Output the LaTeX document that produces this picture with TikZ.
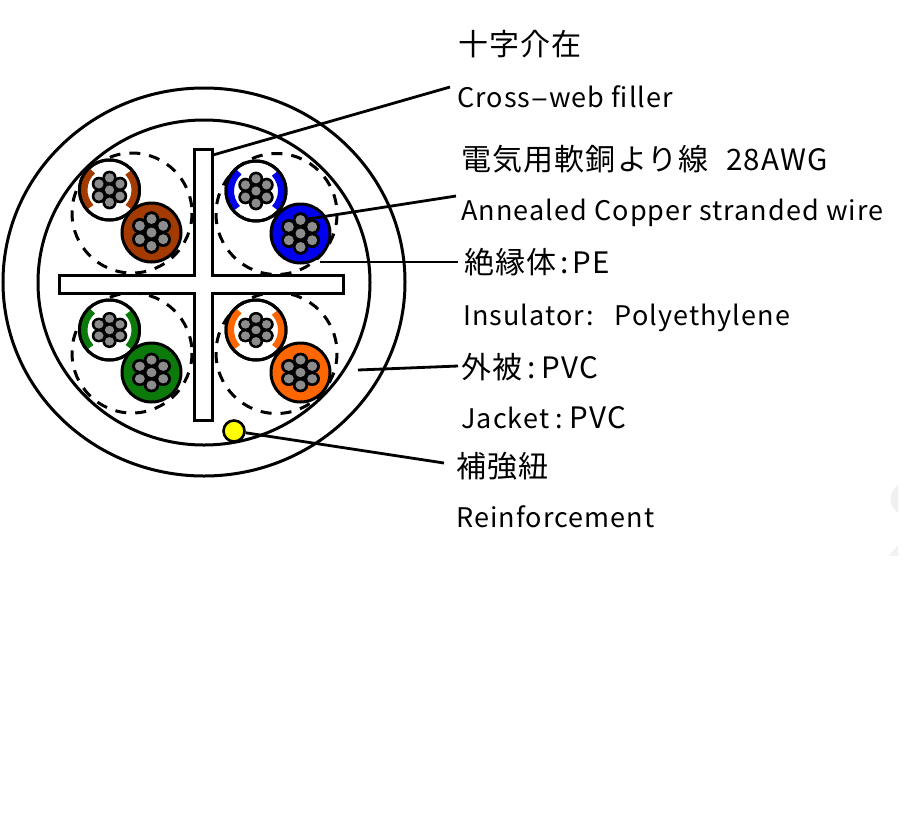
\documentclass[tikz,border=0pt]{standalone}
\usepackage{fontspec}
\usepackage{graphicx}
\setmainfont{Noto Sans CJK JP}
\newfontfamily\lblfont[LetterSpace=4]{Noto Sans CJK JP}
\definecolor{cbrown}{HTML}{A33B00}
\definecolor{cblue}{HTML}{0000EE}
\definecolor{cgreen}{HTML}{0B7A0B}
\definecolor{corange}{HTML}{FF6600}
\definecolor{cyarn}{HTML}{FFFF00}
\definecolor{cstrand}{HTML}{8C8C8C}
\tikzset{
  shell/.style={draw=black,line width=3pt,fill=white},
  web/.style={draw=black,line width=3pt,fill=white},
  pairline/.style={draw=black,line width=3pt,dash pattern=on 11pt off 9pt},
  leader/.style={draw=black,line width=2.8pt},
  lbl/.style={anchor=base west,inner sep=0pt,font=\lblfont\fontsize{27}{27}\selectfont,text=black},
  lblj/.style={anchor=base west,inner sep=0pt,font=\lblfont\fontsize{30}{30}\selectfont,text=black},
}
\newcommand{\lat}[1]{{\fontsize{29.5}{29.5}\selectfont #1}}
\newcommand{\strands}[6]{% x y offset flatten black-r gray-r
  \begin{scope}[shift={(#1,#2)},yscale=#4]
    \foreach \a in {-90,-30,30,90,150,210}{\fill[black] (\a:#3) circle (#5);}
    \fill[black] (0,0) circle (#5+2);
    \foreach \a in {-90,-30,30,90,150,210}{\fill[cstrand] (\a:#3) circle (#6);}
    \fill[cstrand] (0,0) circle (#6);
  \end{scope}}
\newcommand{\pairset}[8]{% dx dy dr wx wy colour flatten dx-of-colour-wire
  \draw[pairline] (#1,#2) circle (#3);
  \draw[black,line width=3pt,fill=white] (#4,#5) circle (30);
  \begin{scope}[shift={(#4,#5)}]
    \draw[#6,line width=8pt] (138:26) arc (138:228:26);
    \draw[#6,line width=8pt] (42:26) arc (42:-43:26);
  \end{scope}
  \draw[black,line width=3pt] (#4,#5) circle (30);
  \strands{#4}{#5}{12.2}{#7}{7.2}{4.6}
  \draw[black,line width=3pt,fill=#6] ({#4+#8},{#5+42.5}) circle (29.5);
  \strands{#4+#8}{#5+42.5}{13.5}{#7}{7.8}{5}
}
\begin{document}
\begin{tikzpicture}[x=1pt,y=-1pt]
\useasboundingbox (0,0) rectangle (907,812);
\fill[white] (0,0) rectangle (907,812);
% faint scan marks at right
\fill[black!6] (898,485) -- (898,513) .. controls (888,505) and (888,493) .. (898,485) -- cycle;
\fill[black!5] (898,545) -- (898,556) -- (889,556) -- cycle;
% jacket and core
\path[shell] (204,282) ellipse (201 and 194);
\path[shell] (204,282.5) ellipse (166 and 162.5);
% pairs
\pairset{132}{213}{60}{109.5}{190}{cbrown}{1}{42}
\pairset{276.5}{214}{60.5}{256}{191}{cblue}{1}{44.5}
\pairset{132}{353}{60}{109.5}{330}{cgreen}{0.93}{42}
\pairset{276.5}{353}{60.5}{256}{330}{corange}{0.93}{44.5}
% cross-web filler
\path[web] (194,149) -- (212,149) -- (212,275) -- (343,275) -- (343,293) -- (212,293) -- (212,420) -- (194,420) -- (194,293) -- (59,293) -- (59,275) -- (194,275) -- cycle;
% reinforcement
\node[circle,draw=black,line width=2.6pt,fill=cyarn,minimum size=21pt,inner sep=0pt] (yarn) at (234,431) {};
% labels
\node[lblj] (t1) at (458,55) {十字介在};
\node[lbl]  (t2) at (457,107) {Cross\scalebox{2}[1]{-}web filler};
\node[lblj] (t3) at (461,170) {電気用軟銅より線\hspace{17pt}\lat{28AWG}};
\node[lbl]  (t4) at (461,220) {Annealed Copper stranded wire};
\node[lblj] (t5) at (464,273) {絶縁体\hspace{4pt}:\hspace{4pt}\lat{PE}};
\node[lbl]  (t6) at (463,325) {Insulator:\hspace{21pt}Polyethylene};
\node[lblj] (t7) at (461,378) {外被\hspace{5pt}:\hspace{6pt}\lat{PVC}};
\node[lbl]  (t8) at (461,428) {Jacket\hspace{6pt}:\hspace{7pt}\lat{PVC}};
\node[lblj] (t9) at (456,477) {補強紐};
\node[lbl]  (t10) at (456,527) {Reinforcement};
% leaders
\coordinate (a1) at (213,155); \coordinate (b1) at (450,87);
\coordinate (a2) at (308,219); \coordinate (b2) at (456,196);
\coordinate (a3) at (320,262); \coordinate (b3) at (458,262);
\coordinate (a4) at (358,370); \coordinate (b4) at (458,366);
\coordinate (b5) at (444,463);
\draw[leader] (a1) -- (b1);
\draw[leader] (a2) -- (b2);
\draw[leader] (a3) -- (b3);
\draw[leader] (a4) -- (b4);
\draw[leader] (yarn) -- (b5);
\end{tikzpicture}
\end{document}
